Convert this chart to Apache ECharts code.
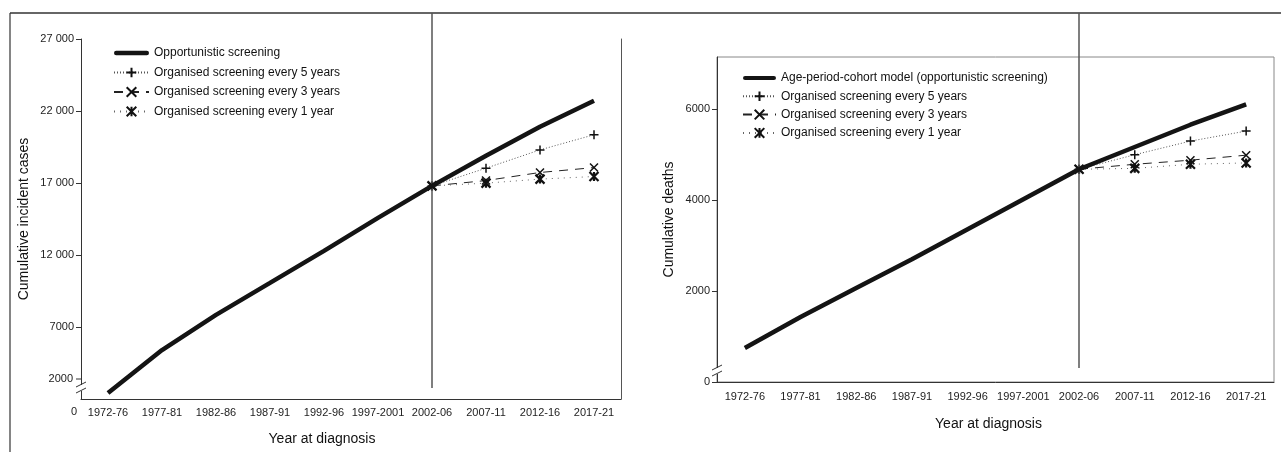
<!DOCTYPE html>
<html><head><meta charset="utf-8">
<script src="https://cdn.jsdelivr.net/npm/echarts@6/dist/echarts.min.js"></script>
<style>html,body{margin:0;padding:0;background:#fff}#c{width:1281px;height:452px}</style>
</head><body><div id="c"></div>
<script>
const categories = ['1972-76','1977-81','1982-86','1987-91','1992-96','1997-2001','2002-06','2007-11','2012-16','2017-21'];
const incidenceTicks = [7000, 12000, 17000, 22000, 27000];
const deathTicks = [0, 2000, 4000, 6000];
const incOpportunistic = [2420, 5400, 7840, 10060, 12290, 14580, 16800, 18890, 20900, 22710];
const inc5yr = [null, null, null, null, null, null, 16800, 18030, 19300, 20350];
const inc3yr = [null, null, null, null, null, null, 16800, 17170, 17730, 18070];
const inc1yr = [null, null, null, null, null, null, 16800, 16990, 17270, 17450];
const dthOpportunistic = [750, 1430, 2070, 2700, 3360, 4020, 4680, 5170, 5660, 6110];
const dth5yr = [null, null, null, null, null, null, 4680, 5000, 5300, 5520];
const dth3yr = [null, null, null, null, null, null, 4680, 4790, 4880, 4990];
const dth1yr = [null, null, null, null, null, null, 4680, 4700, 4790, 4820];
const leftNames = ['Opportunistic screening','Organised screening every 5 years','Organised screening every 3 years','Organised screening every 1 year'];
const rightNames = ['Age-period-cohort model (opportunistic screening)','Organised screening every 5 years','Organised screening every 3 years','Organised screening every 1 year'];

const FONT = '"Liberation Sans", Arial, sans-serif';
const PLUS = 'path://M0,5L10,5M5,0L5,10';
const CROSS = 'path://M0,0L10,10M10,0L0,10';
const STAR = 'path://M0,0L10,10M10,0L0,10M5,0L5,10';
const THICK = 'path://M2.5,0L37.5,0A2.5,2.5,0,0,1,37.5,5L2.5,5A2.5,2.5,0,0,1,2.5,0Z';

function fmtThousands(v){
  if (v >= 10000) { return Math.floor(v/1000) + ' ' + String(v % 1000).padStart(3,'0'); }
  return String(v);
}
function legendData(names){
  return names.map((n, i) => i === 0 ? {name:n, icon:THICK} : {name:n});
}

function oppSeries(name, data, xi, yi, yHint, yBottom){
  return {
    name, type:'line', data, xAxisIndex:xi, yAxisIndex:yi,
    symbol:'none', showSymbol:false, z:5,
    lineStyle:{width:4.5, color:'#141414'}, itemStyle:{color:'#141414'},
    markLine:{
      silent:true, symbol:['none','none'], label:{show:false},
      lineStyle:{color:'#555', width:1.5, type:'solid'},
      emphasis:{disabled:true},
      data:[[{xAxis:6, yAxis:yHint, y:13},{xAxis:6, yAxis:yHint, y:yBottom}]]
    }
  };
}
function scSeries(name, data, xi, yi, kind){
  const cfg = {
    p5:{sym:PLUS, size:9, lt:[1,2], lc:'#555', bw:1.5},
    p3:{sym:CROSS, size:8, lt:[9,7], lc:'#222', bw:1.5},
    p1:{sym:STAR, size:9, lt:[1,5], lc:'#666', bw:2.2}
  }[kind];
  return {
    name, type:'line', data, xAxisIndex:xi, yAxisIndex:yi,
    symbol:cfg.sym, symbolSize:cfg.size, showAllSymbol:true, z:4,
    lineStyle:{width:1, type:cfg.lt, color:cfg.lc},
    itemStyle:{color:'#111', borderColor:'#111', borderWidth:cfg.bw}
  };
}

const axisLineStyle = {lineStyle:{color:'#333', width:1}};
const option = {
  animation:false,
  textStyle:{fontFamily:FONT},
  grid:[
    {left:81, top:39, width:540, height:360},
    {left:717, top:57, width:557, height:325, show:true, borderColor:'#888', borderWidth:1}
  ],
  legend:[
    {data:legendData(leftNames), orient:'vertical', left:113, top:47, itemWidth:35, itemHeight:12, itemGap:7.5,
     padding:0, selectedMode:false, textStyle:{fontSize:12, color:'#111', fontFamily:FONT}},
    {data:legendData(rightNames), orient:'vertical', left:742, top:72, itemWidth:33, itemHeight:12, itemGap:6.3,
     padding:0, selectedMode:false, textStyle:{fontSize:12, color:'#111', fontFamily:FONT}}
  ],
  xAxis:[
    {type:'category', gridIndex:0, data:categories, boundaryGap:true,
     name:'Year at diagnosis', nameLocation:'middle', nameGap:33,
     nameTextStyle:{fontSize:14, color:'#111', padding:[0,58,0,0]},
     axisLine:axisLineStyle, axisTick:{length:5, lineStyle:{color:'#333'}},
     axisLabel:{interval:0, fontSize:11, color:'#222', margin:8}},
    {type:'category', gridIndex:1, data:categories, boundaryGap:true,
     name:'Year at diagnosis', nameLocation:'middle', nameGap:35,
     nameTextStyle:{fontSize:14, color:'#111', padding:[0,14,0,0]},
     axisLine:axisLineStyle, axisTick:{length:5, lineStyle:{color:'#333'}},
     axisLabel:{interval:0, fontSize:11, color:'#222', margin:9}}
  ],
  yAxis:[
    {type:'value', gridIndex:0, min:2000, max:27000,
     name:'Cumulative incident cases', nameLocation:'middle', nameGap:50,
     nameTextStyle:{fontSize:14, color:'#111'},
     axisLine:{show:true, lineStyle:{color:'#333'}}, splitLine:{show:false},
     axisTick:{show:true, length:5, customValues:incidenceTicks, lineStyle:{color:'#333'}},
     axisLabel:{customValues:incidenceTicks, fontSize:11, color:'#222', margin:7, formatter:fmtThousands}},
    {type:'value', gridIndex:0, min:2000, max:27000, position:'right',
     axisLine:{show:true, lineStyle:{color:'#555'}}, axisTick:{show:false}, axisLabel:{show:false}, splitLine:{show:false}},
    {type:'value', gridIndex:1, min:0, max:7150,
     name:'Cumulative deaths', nameLocation:'middle', nameGap:41,
     nameTextStyle:{fontSize:14, color:'#111'},
     axisLine:{show:true, lineStyle:{color:'#333'}}, splitLine:{show:false},
     axisTick:{show:true, length:5, customValues:deathTicks, lineStyle:{color:'#333'}},
     axisLabel:{customValues:deathTicks, fontSize:11, color:'#222', margin:7, formatter:fmtThousands}}
  ],
  series:[
    oppSeries(leftNames[0], incOpportunistic, 0, 0, 20000, 388),
    scSeries(leftNames[1], inc5yr, 0, 0, 'p5'),
    scSeries(leftNames[2], inc3yr, 0, 0, 'p3'),
    scSeries(leftNames[3], inc1yr, 0, 0, 'p1'),
    oppSeries(rightNames[0], dthOpportunistic, 1, 2, 5000, 368),
    scSeries(rightNames[1], dth5yr, 1, 2, 'p5'),
    scSeries(rightNames[2], dth3yr, 1, 2, 'p3'),
    scSeries(rightNames[3], dth1yr, 1, 2, 'p1')
  ],
  graphic:[
    {type:'line', shape:{x1:10, y1:13, x2:1281, y2:13}, style:{stroke:'#333', lineWidth:1.5}, silent:true},
    {type:'line', shape:{x1:10, y1:13, x2:10, y2:452}, style:{stroke:'#333', lineWidth:1.2}, silent:true},
    {type:'rect', shape:{x:78, y:385, width:6, height:6}, style:{fill:'#fff'}, silent:true, z:10},
    {type:'line', shape:{x1:76, y1:387, x2:86, y2:382}, style:{stroke:'#333', lineWidth:1}, silent:true, z:11},
    {type:'line', shape:{x1:76, y1:393, x2:86, y2:388}, style:{stroke:'#333', lineWidth:1}, silent:true, z:11},
    {type:'line', shape:{x1:76, y1:379, x2:81, y2:379}, style:{stroke:'#333', lineWidth:1}, silent:true, z:11},
    {type:'text', style:{text:'2000', x:73, y:379, align:'right', verticalAlign:'middle', fontSize:11, fill:'#222', fontFamily:FONT}, silent:true},
    {type:'text', style:{text:'0', x:77, y:412, align:'right', verticalAlign:'middle', fontSize:11, fill:'#222', fontFamily:FONT}, silent:true},
    {type:'rect', shape:{x:714, y:368, width:6, height:6}, style:{fill:'#fff'}, silent:true, z:10},
    {type:'line', shape:{x1:712, y1:370, x2:722, y2:365}, style:{stroke:'#333', lineWidth:1}, silent:true, z:11},
    {type:'line', shape:{x1:712, y1:376, x2:722, y2:371}, style:{stroke:'#333', lineWidth:1}, silent:true, z:11}
  ]
};
const chart = echarts.init(document.getElementById('c'), null, {renderer:'canvas'});
chart.setOption(option);
</script>
</body></html>
